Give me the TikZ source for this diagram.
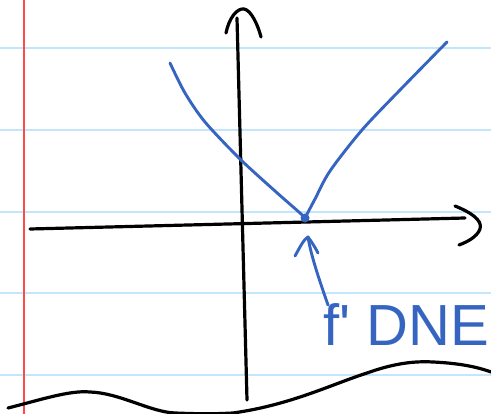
\documentclass[tikz,border=0pt]{standalone}
\usepackage{fontspec}
\setsansfont{Liberation Sans}
\usepackage{tikz}
\usetikzlibrary{positioning}
\definecolor{penblue}{HTML}{3565C0}
\definecolor{rulecol}{HTML}{C4E6FA}
\definecolor{margincol}{HTML}{FF4A4A}

\begin{document}
\begin{tikzpicture}[
  x=1pt, y=-1pt,
  ink/.style={line width=3.2pt, black, line cap=round, line join=round},
  bluepen/.style={line width=2.9pt, penblue, line cap=round, line join=round},
  paperline/.style={line width=1.1pt, rulecol}
]
  \useasboundingbox (0,0) rectangle (491,414);
  \fill[white] (0,0) rectangle (491,414);

  % notebook paper
  \foreach \yy in {48,130,212,293,375}
    \draw[paperline] (0,\yy) -- (491,\yy);
  \draw[line width=1.1pt, margincol] (24,0) -- (24,414);

  % axes
  \coordinate (xl) at (30,229);
  \coordinate (xr) at (465,218);
  \coordinate (yb) at (247,400);
  \coordinate (yt) at (237,18);
  \draw[ink] (xl) -- (xr);
  \draw[ink] (yb) -- (yt);
  \draw[ink] (455,206) .. controls (470,212) and (483,220) .. (480,229)
                       .. controls (477,237) and (467,242) .. (459,245);
  \draw[ink] (226,33) .. controls (229,18) and (237,8) .. (244,9)
                      .. controls (251,10) and (258,25) .. (261,37);

  % the graph with a corner
  \coordinate (cusp) at (305,218);
  \draw[bluepen] plot[smooth] coordinates {(170,63) (185,93) (205,122) (240,159) (275,191) (300,213) (cusp)};
  \draw[bluepen] plot[smooth] coordinates {(cusp) (315,199) (330,171) (362,130) (400,90) (447,42)};
  \fill[penblue] (cusp) circle (4.5);

  % label
  \node[penblue, font=\sffamily\fontsize{58}{58}\selectfont, anchor=base west] (dne) at (320,346) {f\textquotesingle{} DNE};
  \coordinate (tail) at (328,305);
  \coordinate (tip) at (308,237);
  \draw[bluepen] (tail) .. controls (320,282) and (311,256) .. (tip);
  \draw[bluepen] (295,256) .. controls (300,247) and (304,239) .. (tip)
                           .. controls (311,241) and (315,247) .. (318,253);

  % torn edge
  \draw[ink] (8,408) .. controls (40,400) and (70,390) .. (90,392)
             .. controls (120,393) and (150,412) .. (175,413)
             .. controls (200,414) and (215,414) .. (233,413)
             .. controls (290,405) and (330,385) .. (367,373)
             .. controls (395,363) and (415,361) .. (433,362)
             .. controls (455,363) and (475,366) .. (491,372);
\end{tikzpicture}
\end{document}
